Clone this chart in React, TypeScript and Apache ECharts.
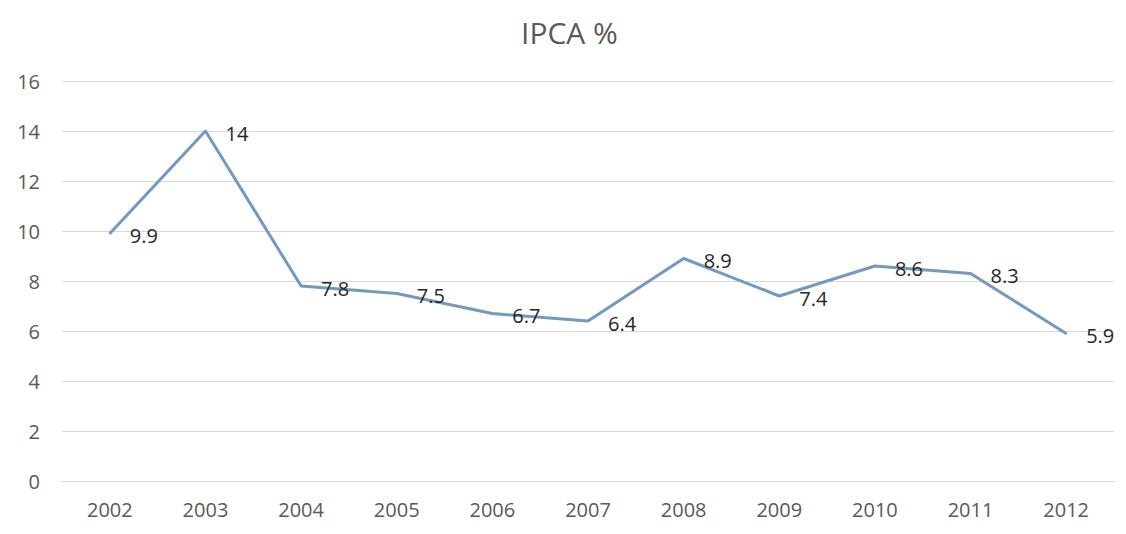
import React, { useEffect, useRef } from "react";
import * as echarts from "echarts";

const years = ["2002", "2003", "2004", "2005", "2006", "2007", "2008", "2009", "2010", "2011", "2012"];
const ipca = [9.9, 14, 7.8, 7.5, 6.7, 6.4, 8.9, 7.4, 8.6, 8.3, 5.9];
const yTicks = { min: 0, max: 16, interval: 2 };

export default function App() {
  const ref = useRef<HTMLDivElement>(null);

  useEffect(() => {
    if (!ref.current) return;
    const chart = echarts.init(ref.current, undefined, { renderer: "svg" });
    const font = "'Open Sans', 'Liberation Sans', sans-serif";
    chart.setOption({
      animation: false,
      backgroundColor: "#ffffff",
      title: {
        text: "IPCA %",
        left: 516,
        top: 12,
        textStyle: { fontFamily: font, fontSize: 30, fontWeight: "normal", color: "#595959" },
      },
      grid: { left: 62, right: 12, top: 81, bottom: 53, containLabel: false },
      xAxis: {
        type: "category",
        data: years,
        boundaryGap: true,
        axisLine: { show: true, lineStyle: { color: "#d9d9d9", width: 1 } },
        axisTick: { show: false },
        axisLabel: { color: "#595959", fontFamily: font, fontSize: 20, margin: 18 },
      },
      yAxis: {
        type: "value",
        min: yTicks.min,
        max: yTicks.max,
        interval: yTicks.interval,
        axisLine: { show: false },
        axisTick: { show: false },
        splitLine: { lineStyle: { color: "#d9d9d9", width: 1 } },
        axisLabel: { color: "#595959", fontFamily: font, fontSize: 20, margin: 22 },
      },
      series: [
        {
          type: "line",
          data: ipca,
          symbol: "circle",
          symbolSize: 2,
          showSymbol: true,
          itemStyle: { color: "#7399c0" },
          lineStyle: { color: "#7399c0", width: 3 },
          label: {
            show: true,
            position: "right",
            distance: 19,
            offset: [0, 2],
            color: "#262626",
            fontFamily: font,
            fontSize: 20,
          },
        },
      ],
    });
    return () => chart.dispose();
  }, []);

  return (
    <div
      ref={ref}
      style={{ position: "fixed", left: 0, top: 0, width: 1126, height: 534 }}
    />
  );
}
